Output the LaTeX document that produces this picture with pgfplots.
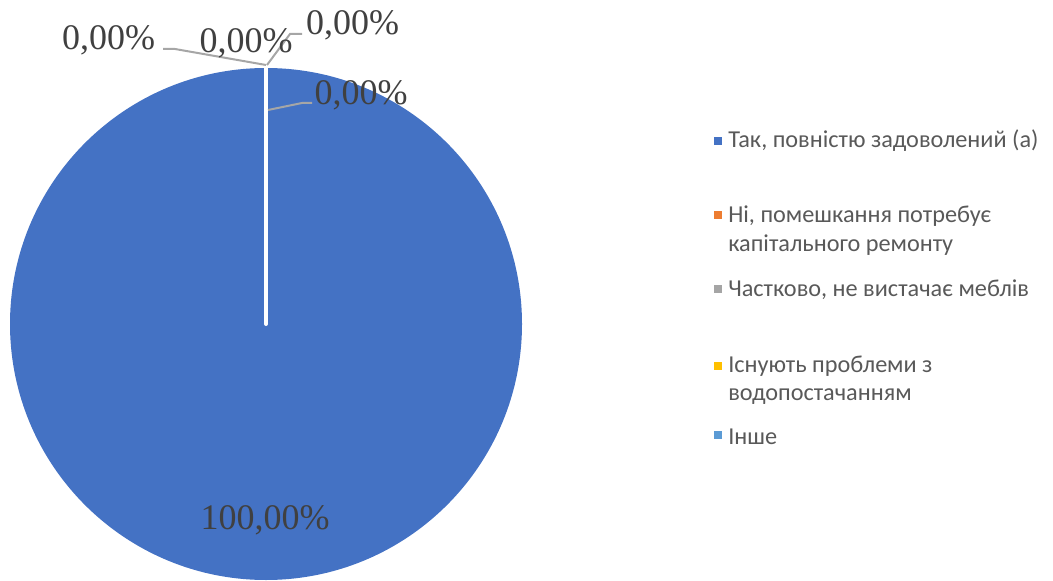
\documentclass[border=0pt]{standalone}
\usepackage{fontspec}
\setmainfont{Liberation Serif}
\newfontfamily\legfont{Carlito}
\usepackage{pgfplots}
\pgfplotsset{compat=1.18}

\definecolor{pieblue}{HTML}{4472C4}
\definecolor{pieorange}{HTML}{ED7D31}
\definecolor{piegray}{HTML}{A5A5A5}
\definecolor{pieyellow}{HTML}{FFC000}
\definecolor{pielight}{HTML}{5B9BD5}
\definecolor{labtext}{HTML}{404040}
\definecolor{legtext}{HTML}{595959}
\definecolor{leader}{HTML}{A6A6A6}

\begin{document}
\begin{tikzpicture}
\begin{axis}[
    scale only axis,
    width=789.75pt, height=435.75pt,
    xmin=0, xmax=1053, ymin=0, ymax=581,
    y dir=reverse,
    hide axis,
    clip=false,
]
\path (rel axis cs:0,0) rectangle (rel axis cs:1,1);

% pie: 100 % in the first slice, the other four are 0 %
\fill[pieblue] (axis cs:266,324) circle[radius=256];
\draw[white, line width=3pt, line cap=round] (axis cs:266,324) -- (axis cs:266,68);

% leader lines
\draw[leader, line width=1.5pt] (axis cs:163,49) -- (axis cs:175,49) -- (axis cs:266,65);
\draw[leader, line width=1.5pt] (axis cs:302,34) -- (axis cs:290,34) -- (axis cs:267,65);
\draw[leader, line width=1.5pt] (axis cs:312,103) -- (axis cs:302,103) -- (axis cs:268,110);

% data labels
\begin{scope}[every node/.style={font=\fontsize{27}{30}\selectfont, text=labtext, inner sep=0pt, anchor=base}]
\node at (axis cs:108.5,50) {0,00\%};
\node at (axis cs:246,53) {0,00\%};
\node at (axis cs:352.5,35) {0,00\%};
\node at (axis cs:361,105) {0,00\%};
\node at (axis cs:265,529) {100,00\%};
\end{scope}

% legend
\begin{scope}[every node/.style={font=\legfont\fontsize{18.2}{21}\selectfont, text=legtext, inner sep=0pt, anchor=base west}]
\fill[pieblue]   (axis cs:714,137) rectangle (axis cs:722,145);
\fill[pieorange] (axis cs:714,211) rectangle (axis cs:722,219);
\fill[piegray]   (axis cs:714,285) rectangle (axis cs:722,293);
\fill[pieyellow] (axis cs:714,362) rectangle (axis cs:722,370);
\fill[pielight]  (axis cs:714,431) rectangle (axis cs:722,439);
\node at (axis cs:728,148) {Так, повністю задоволений (а)};
\node at (axis cs:728,223) {Ні, помешкання потребує};
\node at (axis cs:728,251) {капітального ремонту};
\node at (axis cs:728,296) {Частково, не вистачає меблів};
\node at (axis cs:728,372) {Існують проблеми з};
\node at (axis cs:728,400) {водопостачанням};
\node at (axis cs:728,444) {Інше};
\end{scope}
\end{axis}
\end{tikzpicture}
\end{document}
